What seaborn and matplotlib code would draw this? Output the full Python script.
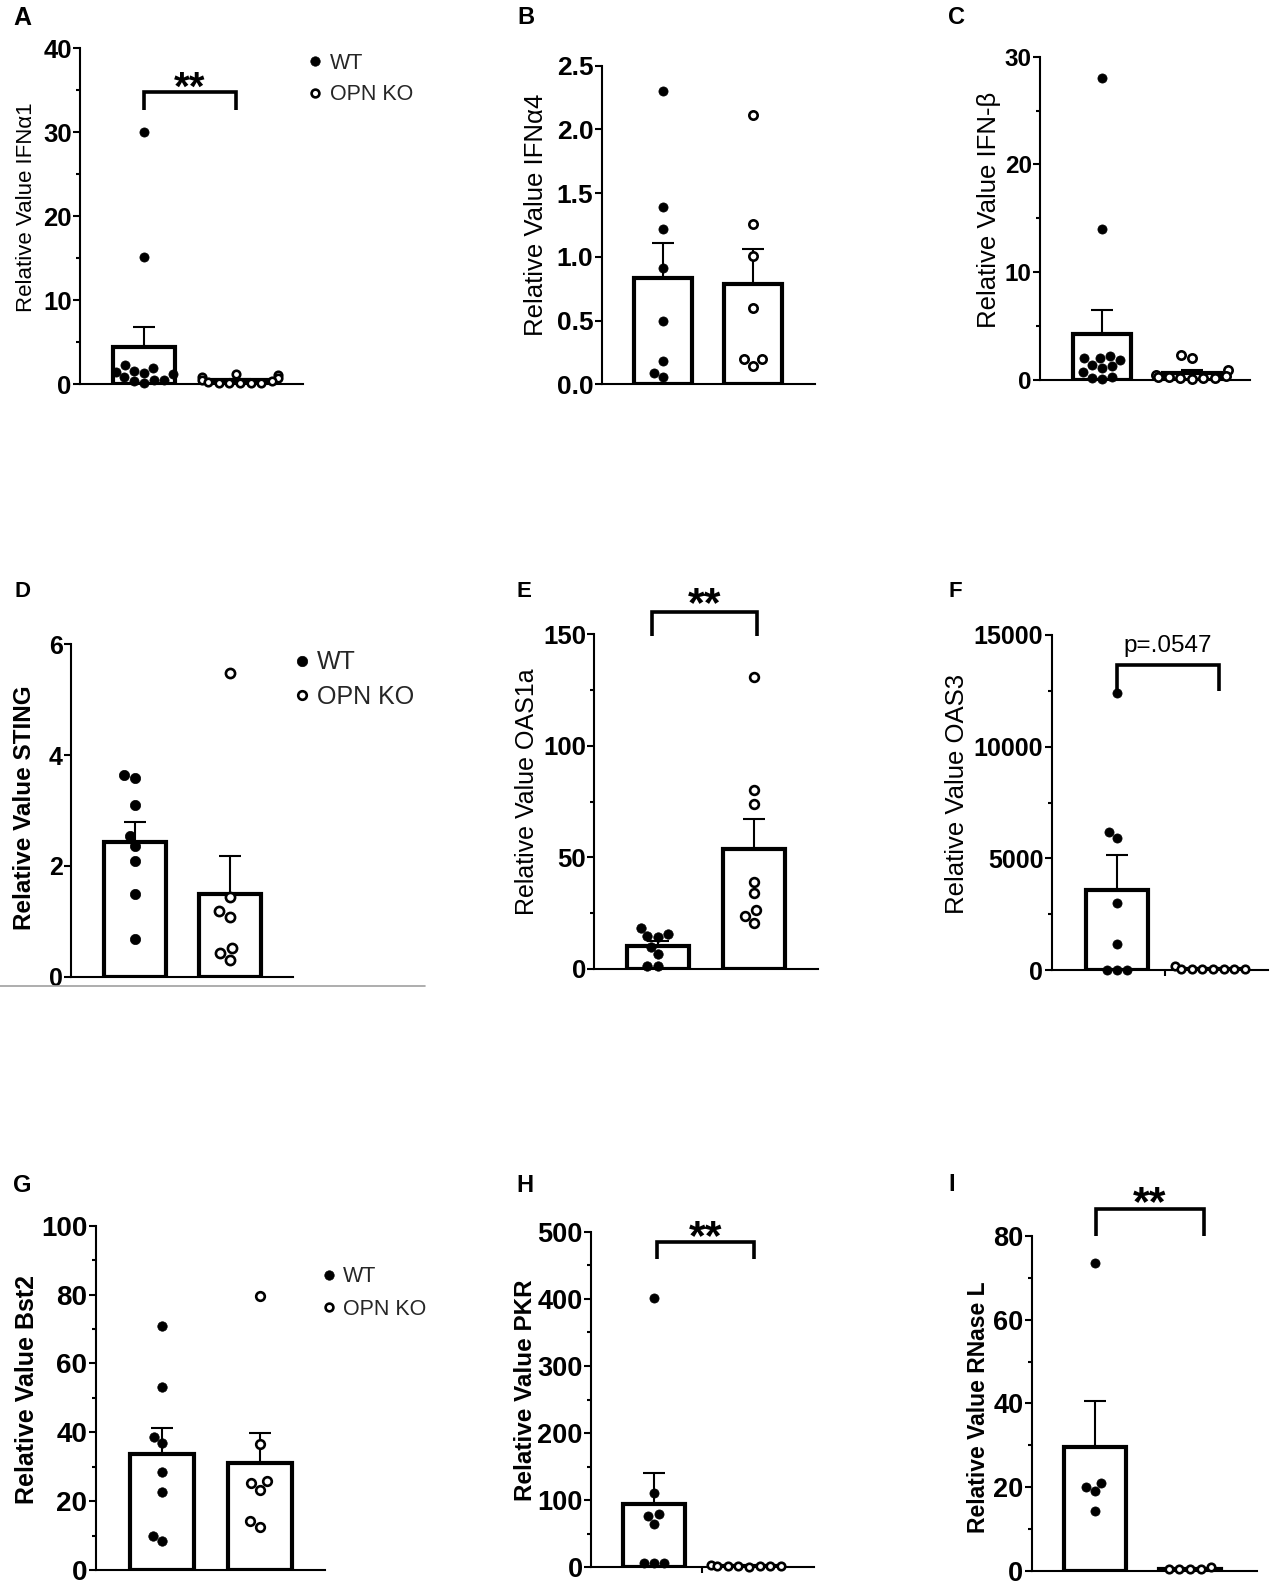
import numpy as np
import pandas as pd
import matplotlib
matplotlib.use("Agg")
import matplotlib.pyplot as plt
from matplotlib.lines import Line2D
import seaborn as sns

# ---------------- data ----------------
groups = ["WT", "OPN KO"]

# A  IFNα1
ifna1_wt = [30.0, 15.2, 2.3, 1.9, 1.6, 1.5, 1.4, 1.2, 0.9, 0.5, 0.5, 0.4, 0.2]
ifna1_ko = [1.2, 1.1, 0.9, 0.7, 0.5, 0.35, 0.3, 0.2, 0.2, 0.15, 0.1, 0.1]
# B  IFNα4
ifna4_wt = [2.30, 1.39, 1.22, 0.915, 0.50, 0.18, 0.055, 0.086]
ifna4_ko = [2.11, 1.26, 1.01, 0.60, 0.20, 0.20, 0.146]
# C  IFN-β
ifnb_wt = [28.0, 14.0, 2.2, 2.0, 2.0, 1.85, 1.4, 1.3, 1.1, 0.7, 0.3, 0.15, 0.05]
ifnb_ko = [2.3, 2.0, 0.9, 0.5, 0.4, 0.3, 0.3, 0.2, 0.2, 0.15, 0.1]
# D  STING
sting_wt = [3.58, 3.64, 3.10, 2.54, 2.36, 2.08, 1.49, 0.68]
sting_ko = [5.49, 1.44, 1.19, 1.08, 0.51, 0.42, 0.30]
# E  OAS1a
oas1a_wt = [18.5, 15.7, 14.9, 14.5, 10.0, 6.6, 1.5, 1.5]
oas1a_ko = [130.9, 80.1, 73.7, 39.1, 33.9, 26.4, 23.9, 20.4]
# F  OAS3
oas3_wt = [12388, 6194, 5896, 2985, 1149, 20, 20, 20]
oas3_ko = [60, 180, 50, 40, 40, 30, 30, 30]
# G  Bst2
bst2_wt = [70.9, 53.2, 38.7, 36.8, 28.4, 22.6, 10.0, 8.5]
bst2_ko = [79.6, 36.6, 25.9, 25.2, 23.2, 14.3, 12.6]
# H  PKR
pkr_wt = [400.7, 111.2, 79.0, 76.5, 64.1, 7.0, 6.0, 6.0]
pkr_ko = [2.0, 3.0, 2.5, 2.0, 1.5, 2.0, 1.5, 1.0]
# I  RNase L
rnasel_wt = [73.5, 20.9, 20.1, 19.0, 14.3]
rnasel_ko = [0.3, 0.8, 0.3, 0.3, 0.3]

ylabels = {
    "A": "Relative Value IFNα1", "B": "Relative Value IFNα4", "C": "Relative Value IFN-β",
    "D": "Relative Value STING", "E": "Relative Value OAS1a", "F": "Relative Value OAS3",
    "G": "Relative Value Bst2", "H": "Relative Value PKR", "I": "Relative Value RNase L",
}
values = {
    "A": (ifna1_wt, ifna1_ko), "B": (ifna4_wt, ifna4_ko), "C": (ifnb_wt, ifnb_ko),
    "D": (sting_wt, sting_ko), "E": (oas1a_wt, oas1a_ko), "F": (oas3_wt, oas3_ko),
    "G": (bst2_wt, bst2_ko), "H": (pkr_wt, pkr_ko), "I": (rnasel_wt, rnasel_ko),
}
yticks = {
    "A": [0, 10, 20, 30, 40], "B": [0, 0.5, 1.0, 1.5, 2.0, 2.5], "C": [0, 10, 20, 30],
    "D": [0, 2, 4, 6], "E": [0, 50, 100, 150], "F": [0, 5000, 10000, 15000],
    "G": [0, 20, 40, 60, 80, 100], "H": [0, 100, 200, 300, 400, 500], "I": [0, 20, 40, 60, 80],
}
ytick_labels = {
    "A": ["0", "10", "20", "30", "40"], "B": ["0.0", "0.5", "1.0", "1.5", "2.0", "2.5"],
    "C": ["0", "10", "20", "30"], "D": ["0", "2", "4", "6"], "E": ["0", "50", "100", "150"],
    "F": ["0", "5000", "10000", "15000"], "G": ["0", "20", "40", "60", "80", "100"],
    "H": ["0", "100", "200", "300", "400", "500"], "I": ["0", "20", "40", "60", "80"],
}
yminor = {
    "A": [5, 15, 25, 35], "B": [], "C": [5, 15, 25], "D": [], "E": [25, 75, 125],
    "F": [2500, 7500, 12500], "G": [10, 30, 50, 70, 90], "H": [50, 150, 250, 350, 450],
    "I": [10, 30, 50, 70],
}
# significance annotations: text, bracket low, bracket high, x start, x end
sig = {
    "A": ("**", 32.6, 34.8, 0.0, 0.96),
    "E": ("**", 149, 160, -0.06, 1.03),
    "F": ("p=.0547", 12508, 13657, 0.0, 1.06),
    "H": ("**", 459, 484, 0.03, 1.05),
    "I": ("**", 80, 86.4, 0.01, 1.15),
}

# ---------------- layout (pixels in the 1279x1581 canvas) ----------------
W, H, DPI = 1279, 1581, 100
layout = {
    # box: y-axis x, x-axis right end, y of 0, y of top tick ; centers of the two groups
    "A": dict(box=(80, 303, 384.3, 48.3), c=(144, 240), lab=(27, 207.5), lfs=16, lw="normal", tfs=18.5, let=(13, 25), lets=18, ms=(6.6, 5.4)),
    "B": dict(box=(601.7, 815, 384.3, 65.7), c=(663, 753), lab=(536, 215), lfs=18.5, lw="normal", tfs=19, let=(517, 24), lets=17, ms=(6.6, 6.0)),
    "C": dict(box=(1040, 1250, 380, 56.7), c=(1102, 1192), lab=(989, 210), lfs=18.5, lw="normal", tfs=17.5, let=(948, 24), lets=17, ms=(6.6, 6.0)),
    "D": dict(box=(71, 293, 976.7, 644.3), c=(135, 230), lab=(25, 807.5), lfs=17.5, lw="bold", tfs=18, let=(15, 597), lets=16, ms=(7.4, 6.6)),
    "E": dict(box=(594.3, 818, 969, 634), c=(658, 754), lab=(527, 792), lfs=18, lw="normal", tfs=18.5, let=(516, 597), lets=16, ms=(6.8, 6.3)),
    "F": dict(box=(1051.7, 1268, 970, 635), c=(1117, 1213), lab=(957, 793.5), lfs=18.5, lw="normal", tfs=18, let=(948, 597), lets=16, ms=(6.6, 5.4)),
    "G": dict(box=(95.7, 325, 1570, 1225.7), c=(162, 260), lab=(27, 1389.5), lfs=18, lw="bold", tfs=20, let=(13, 1192), lets=17, ms=(6.8, 6.2)),
    "H": dict(box=(591, 814, 1567.3, 1231.7), c=(654, 749), lab=(525, 1390), lfs=17.5, lw="bold", tfs=19.5, let=(516, 1192), lets=17, ms=(6.6, 5.4)),
    "I": dict(box=(1031.7, 1257, 1570.7, 1236), c=(1095, 1190), lab=(978, 1407.5), lfs=16.5, lw="bold", tfs=19.5, let=(948, 1191), lets=17, ms=(6.6, 5.4)),
}
sig_style = {"A": (29, "bold", -5.5), "E": (31, "bold", -3.5), "F": (17.5, "normal", 9),
             "H": (31, "bold", -5), "I": (31, "bold", -4.5)}
legends = {"A": (315, 79, 15.5, 0.5, 0.4), "D": (302, 679.5, 18, 0.42, 0.3), "G": (329, 1293, 15.5, 0.52, 0.35)}
mid_xtick = {"F", "H"}

sns.set_theme(style="ticks")
plt.rcParams["font.family"] = ["Liberation Sans", "DejaVu Sans"]
plt.rcParams["axes.linewidth"] = 1.5

fig = plt.figure(figsize=(W / DPI, H / DPI), dpi=DPI)
fig.patch.set_facecolor("white")

for key in "ABCDEFGHI":
    L = layout[key]
    left, right, y0, ytop = L["box"]
    c0, c1 = L["c"]
    ms_wt, ms_ko = L["ms"]
    ax = fig.add_axes([left / W, 1 - y0 / H, (right - left) / W, (y0 - ytop) / H])
    ax.set_facecolor("none")
    wt, ko = values[key]
    df = pd.DataFrame({"group": ["WT"] * len(wt) + ["OPN KO"] * len(ko),
                       "value": list(wt) + list(ko)})

    sns.barplot(data=df, x="group", y="value", order=groups, errorbar=None,
                color="white", edgecolor="black", linewidth=3, width=0.65,
                ax=ax, zorder=1)
    stats = df.groupby("group")["value"].agg(["mean", "sem"]).reindex(groups)
    ax.errorbar([0, 1], stats["mean"].values,
                yerr=[np.zeros(2), stats["sem"].values], fmt="none",
                ecolor="black", elinewidth=1.5, capsize=8, capthick=1.5, zorder=2)
    # filled dots for WT, open circles for OPN KO
    sns.swarmplot(data=df[df["group"] == "WT"], x="group", y="value", order=groups,
                  color="black", edgecolor="black", linewidth=0.5, size=ms_wt,
                  ax=ax, zorder=3)
    sns.swarmplot(data=df[df["group"] == "OPN KO"], x="group", y="value", order=groups,
                  color="white", edgecolor="black", linewidth=1.9, size=ms_ko,
                  ax=ax, zorder=3)
    for coll in ax.collections:
        coll.set_clip_on(False)

    s = c1 - c0
    ax.set_xlim((left - c0) / s, (right - c0) / s)
    ax.set_ylim(0, yticks[key][-1])
    ax.set_yticks(yticks[key])
    ax.set_yticklabels(ytick_labels[key], fontweight="bold", fontsize=L["tfs"])
    ax.set_yticks(yminor[key], minor=True)
    ax.tick_params(axis="y", which="major", length=5, width=1.5, pad=1, colors="black")
    ax.tick_params(axis="y", which="minor", length=3, width=1.5, colors="black")
    if key in mid_xtick:
        ax.set_xticks([0.5])
    else:
        ax.set_xticks([])
    ax.set_xticklabels([])
    ax.tick_params(axis="x", length=4.5, width=1.5, colors="black")
    ax.set_xlabel("")
    ax.set_ylabel(ylabels[key], fontsize=L["lfs"], fontweight=L["lw"], va="center", color="black")
    lx, ly = L["lab"]
    ax.yaxis.set_label_coords(lx / W, 1 - ly / H, transform=fig.transFigure)
    for sp in ["top", "right"]:
        ax.spines[sp].set_visible(False)
    for sp in ["left", "bottom"]:
        ax.spines[sp].set_linewidth(1.5)
        ax.spines[sp].set_color("black")

    if key in sig:
        text, lo, hi, xa, xb = sig[key]
        fs, fw, off = sig_style[key]
        ax.plot([xa, xa, xb, xb], [lo, hi, hi, lo], color="black", lw=2.6,
                clip_on=False, solid_joinstyle="miter", solid_capstyle="butt")
        ax.annotate(text, xy=((xa + xb) / 2, hi), xytext=(0, off),
                    textcoords="offset points", ha="center", va="baseline",
                    fontsize=fs, fontweight=fw, color="black", annotation_clip=False)

    if key in legends:
        mx, my, fs, lsp, tp = legends[key]
        hl = 0.6
        lft = mx - hl * fs * DPI / 72 / 2
        big = 1.1 if key == "D" else 1.0
        handles = [Line2D([], [], ls="none", marker="o", ms=6.8 * big, mfc="black", mec="black", mew=0.5),
                   Line2D([], [], ls="none", marker="o", ms=5.6 * big, mfc="white", mec="black", mew=1.9)]
        ax.legend(handles, groups, loc="center left", bbox_to_anchor=(lft / W, 1 - my / H),
                  bbox_transform=fig.transFigure, frameon=False, fontsize=fs,
                  handlelength=hl, handletextpad=tp, labelspacing=lsp,
                  borderpad=0, borderaxespad=0)

    lx, ly = L["let"]
    fig.text(lx / W, 1 - ly / H, key, fontsize=L["lets"], fontweight="bold",
             ha="left", va="baseline", color="black")

# thin grey rule under panel D
fig.add_artist(Line2D([0, 425 / W], [1 - 986 / H, 1 - 986 / H], color="#a0a0a0",
                      lw=1.2, transform=fig.transFigure))

fig.savefig("out.png", dpi=DPI, facecolor="white")
